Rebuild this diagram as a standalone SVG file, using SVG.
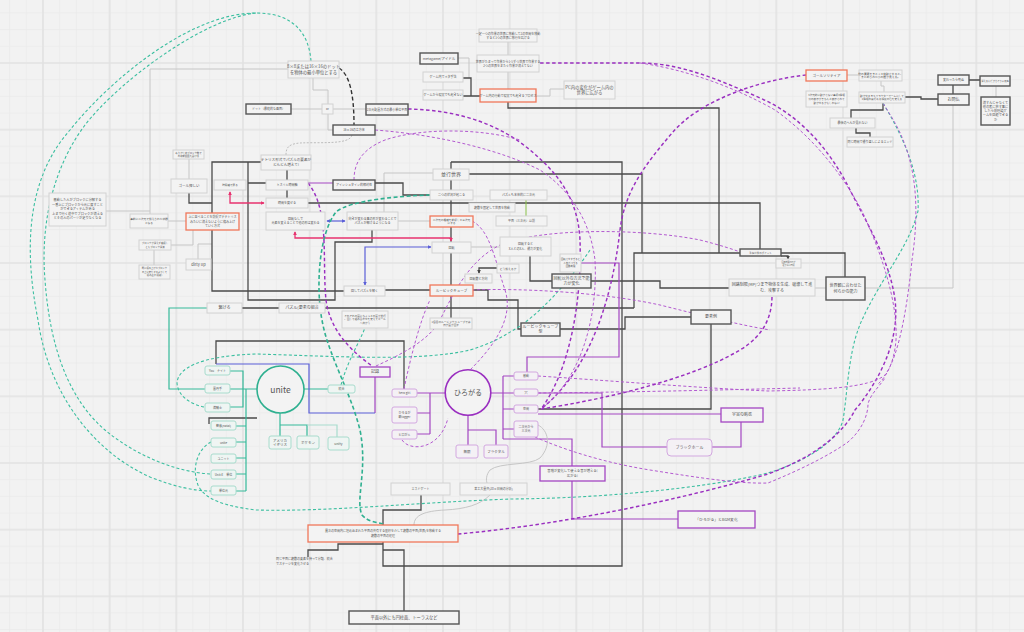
<svg xmlns="http://www.w3.org/2000/svg" width="1024" height="632" viewBox="0 0 1024 632">
<defs>
<pattern id="grid" x="42" y="62" width="66.667" height="66.667" patternUnits="userSpaceOnUse">
<path d="M17.667,0V66.667M34.333,0V66.667M51,0V66.667M0,17.667H66.667M0,34.333H66.667M0,51H66.667" stroke="#eaeaea" stroke-width="0.8" fill="none"/>
<path d="M1,0V66.667M0,1H66.667" stroke="#e2e2e2" stroke-width="1.6" fill="none"/>
</pattern>
<marker id="ap" viewBox="0 0 6 6" refX="5" refY="3" markerWidth="3" markerHeight="3" orient="auto-start-reverse"><path d="M0,0L6,3L0,6z" fill="#e7336f"/></marker>
<marker id="ab" viewBox="0 0 6 6" refX="5" refY="3" markerWidth="3" markerHeight="3" orient="auto-start-reverse"><path d="M0,0L6,3L0,6z" fill="#5b5fd8"/></marker>
<marker id="ad" viewBox="0 0 6 6" refX="5" refY="3" markerWidth="3" markerHeight="3" orient="auto-start-reverse"><path d="M0,0L6,3L0,6z" fill="#444"/></marker>
</defs>
<style>
text{font-family:"Noto Sans CJK JP","Noto Sans",sans-serif;fill:#555;text-anchor:middle}
.b{fill:#f3f3f3;stroke:#d2d2d2;stroke-width:1}
.bd{fill:#f3f3f3;stroke:#555;stroke-width:1.4}
.bo{fill:#f3f3f3;stroke:#f0775a;stroke-width:1.3}
.bp{fill:#f3f3f3;stroke:#a346c2;stroke-width:1.3}
.bpl{fill:#f4f1f5;stroke:#d3a8e0;stroke-width:1}
.bt{fill:#eff5f3;stroke:#a8dccd;stroke-width:1}
.lg{stroke:#c6c6c6;stroke-width:1}
.dk{stroke:#4a4a4a;stroke-width:1.3}
.tl{stroke:#35b99a;stroke-width:1.2}
.tll{stroke:#a8dccd;stroke-width:1.2}
.pu{stroke:#a346c2;stroke-width:1.2}
.bl{stroke:#5b5fd8;stroke-width:1.2}
.pk{stroke:#e7336f;stroke-width:1.3}
.gr{stroke:#8bc34a;stroke-width:1}
.dp{stroke:#b35ad0;stroke-width:1;stroke-dasharray:3 2.2}
.dpb{stroke:#9a2fc0;stroke-width:1.45;stroke-dasharray:3.5 2.5}
.dt{stroke:#3cbfa0;stroke-width:1.1;stroke-dasharray:3 2.2}
.dtb{stroke:#2fb090;stroke-width:1.6;stroke-dasharray:4 2.5}
.dg{stroke:#bcbcbc;stroke-width:1;stroke-dasharray:2 1.5}
.dk2{stroke:#333;stroke-width:1.4;stroke-dasharray:4 2.5}
</style>
<rect width="1024" height="632" fill="#f2f2f2"/>
<rect width="1024" height="632" fill="url(#grid)"/>

<g id="connectors" fill="none">
<path class="lg" d="M150,214V69H288M106,211H150M313,78V90H328V104M291,109H322M333,109H366M328,114V130H333M189,159V179M168,221H186M171,245H193V230M154,250V265M212,244H198V259M458,58H469V78M508,42V55M508,72V89M536,96H550V89H564M847,75H859M881,81V86H884V92M996,86V97M953,105V288H815M384,212V173H433M397,221H430M471,247H500"/>
<path class="dk" d="M287,170V180M287,190V198M248,183H266M375,183H403V195H430M307,203H760V249M261,162H212V291H344M248,162V300H335V242H372V230M189,193V203H212M451,162H622V566H383V542M451,162V318M469,174H642V253M508,102V108H719V253M634,308V253H740M242,308H634M463,78H471V96M463,96H480M904,97H921V99H938M883,103V110H851V118M856,128V133H870V137M953,85V94M969,80H980M781,253H845V277M591,281H660V288H729M560,329H625V317H691M711,324V409H538M472,290H488V300H518V329H521M385,290H430M216,364V341H404V393H417M530,256V281H552M421,495V510H383V525M383,544H338V550H308V557M383,550H404V611M209,424V418H257"/>
<path class="dk" d="M781,256H788V259" marker-end="url(#ad)"/>
<path class="dk" d="M497,268H479V273" marker-end="url(#ad)"/>
<path class="tl" d="M207,308H169V389H205M230,371H243V407H230M230,389H257M246,389V491M236,426H246M236,442H246M236,458H246M236,474H246M236,491H246M303,389H328M280,413V425H307V436M280,425V436"/>
<path class="tll" d="M307,425H337V437"/>
<path class="pu" d="M308,183H333M375,377V413M417,393H445M430,393V434M417,413H430M417,434H430M468,416V445M468,430H496V445M491,393H503M503,376V439M503,376H514M503,393H514M503,409H514M503,429H514M503,439H572V519H678M538,393H602V447H667M712,447H741V422M538,414H721M581,263H619V357H527V372"/>
<path class="bl" d="M216,364H309V413H375"/>
<path class="bl" d="M327,221H345" marker-start="url(#ab)" marker-end="url(#ab)"/>
<path class="bl" d="M431,247H365V285" marker-start="url(#ab)" marker-end="url(#ab)"/>
<path class="pk" d="M230,192V203H264" marker-start="url(#ap)" marker-end="url(#ap)"/>
<path class="pk" d="M295,232V238H451V241" marker-start="url(#ap)" marker-end="url(#ap)"/>
<path class="gr" d="M526,200V216"/>
<path class="dg" d="M352,135C350,145 320,142 300,143C288,144 286,148 286,155"/>
<path class="dk2" d="M339,68C350,75 354,95 354,125"/>
<path class="lg" d="M538,425C548,430 552,445 540,458C530,466 500,462 490,470C486,475 486,480 487,483M414,525C414,515 425,511 445,510C465,509 480,505 490,495"/>
<path class="dt" d="M311,61C309,35 295,13 256,13C190,13 110,80 70,130C30,175 22,240 38,320C48,390 90,450 150,477C175,487 195,491 211,491"/>
<path class="dt" d="M256,13C205,18 120,80 85,125C55,165 40,220 45,280C50,350 70,400 105,430C135,455 175,472 211,474"/>
<path class="dt" d="M211,442C196,450 192,470 198,485C205,500 225,506 256,510C330,512 420,502 512,499C620,498 720,485 768,473C810,460 838,440 843,420C848,390 848,350 862,320C880,280 910,245 918,211C920,175 905,140 883,103"/>
<path class="dt" d="M204,407C190,404 178,396 177,383C178,368 200,356 256,354C330,356 420,362 470,350C490,344 500,338 512,331C540,315 570,280 590,250"/>
<path class="dtb" d="M430,195C400,196 350,200 336,212C318,235 316,290 322,320C328,355 350,390 360,430C368,470 355,500 362,515C368,522 376,522 383,524"/>
<path class="dt" d="M341,385C348,360 358,345 365,328"/>
<path class="dpb" d="M458,534C560,525 680,500 768,474C820,455 845,430 855,410C880,380 900,340 895,300C890,260 865,220 850,190C830,150 800,115 760,98C720,80 680,63 640,63L539,63"/>
<path class="dp" d="M640,63C690,70 740,90 775,110C810,135 840,170 862,211C880,250 898,300 896,340C894,365 885,378 878,384"/>
<path class="dp" d="M538,376C600,380 700,388 768,391C820,390 870,388 885,375C900,355 908,300 912,260C918,220 918,180 905,145C898,125 888,112 883,103"/>
<path class="dp" d="M538,393C640,392 720,390 800,388"/>
<path class="dp" d="M535,437C560,448 600,462 650,470C700,478 740,484 768,483C800,470 830,455 848,442C862,430 868,415 868,404C870,395 878,388 885,378"/>
<path class="dpb" d="M541,409C600,400 690,380 740,350C765,335 772,315 772,296"/>
<path class="dpb" d="M806,75C760,80 700,100 672,133C645,165 625,190 620,230C612,300 590,370 541,409"/>
<path class="dpb" d="M408,109C460,110 500,125 530,150C560,175 578,200 580,240C582,300 570,370 541,409"/>
<path class="dp" d="M375,130C440,135 500,150 540,170C570,190 590,220 595,260C598,320 580,380 541,409"/>
<path class="dpb" d="M308,183C330,210 322,260 326,300C330,330 350,350 372,366"/>
<path class="dp" d="M376,366C400,355 430,340 440,320C455,290 470,260 500,245C540,228 640,228 700,240C720,245 735,250 740,252"/>
<path class="dp" d="M354,180C354,165 360,150 385,140C420,128 480,128 520,140"/>
<path class="dp" d="M472,221C490,230 495,260 505,290C515,320 490,350 470,370"/>
<path class="dp" d="M472,290C520,288 600,292 660,305C700,315 740,325 770,330"/>
<path class="dp" d="M404,389C410,360 420,320 430,300"/>
<path class="dp" d="M402,440C410,452 440,450 448,418"/>
</g>

<g id="n1"><rect class="b" x="288" y="61" width="51" height="17"/><text font-size="4.3" x="313.5" y="68.2">8×8または16×16のドット</text><text font-size="4.3" x="313.5" y="73.8">を物体の最小単位とする</text></g>
<g id="n2"><rect class="b" x="322" y="104" width="11" height="10"/><text font-size="3" x="327.5" y="110">or</text></g>
<g id="n3"><rect class="bd" x="246" y="104" width="45" height="10"/><text font-size="3" x="268.5" y="110">ドット（最終的な画面）</text></g>
<g id="n4"><rect class="bd" x="366" y="104" width="42" height="11"/><text font-size="3" x="387" y="110.5">2次元配置方式の最小単位平面</text></g>
<g id="n5"><rect class="bd" x="333" y="125" width="42" height="10"/><text font-size="3" x="354" y="131">16×16の立方体</text></g>
<g id="n6"><rect class="b" x="261" y="155" width="50" height="15"/><text font-size="3.6" x="286" y="161.4">テトリス形式でパズルの要素が</text><text font-size="3.6" x="286" y="166.2">どんどん増えて!</text></g>
<g id="n7"><rect class="b" x="266" y="180" width="42" height="10"/><text font-size="3" x="287" y="186">ミスリル時間軸</text></g>
<g id="n8"><rect class="b" x="266" y="198" width="42" height="10"/><text font-size="3" x="287" y="204">時間を戻せる</text></g>
<g id="n9"><rect class="bd" x="333" y="180" width="42" height="10"/><text font-size="3" x="354" y="186">アインシュタイン的相対性</text></g>
<g id="n10"><rect class="b" x="433" y="169" width="36" height="11"/><text font-size="5" x="451" y="176.3">並行世界</text></g>
<g id="n11"><rect class="b" x="430" y="190" width="43" height="10"/><text font-size="3" x="451.5" y="196">二つの状況が起こる</text></g>
<g id="n12"><rect class="b" x="490" y="190" width="57" height="10"/><text font-size="3" x="518.5" y="196">パズルも本体的に二次元</text></g>
<g id="n12b"><rect class="b" x="469" y="203" width="46" height="9"/><text font-size="3" x="492" y="208.6">複数を固定して世界を移動</text></g>
<g id="n13"><rect class="b" x="496" y="216" width="51" height="10"/><text font-size="3" x="521.5" y="222">平面（三次元）以前</text></g>
<g id="n14"><rect class="b" x="479" y="29" width="58" height="13"/><text font-size="3" x="508" y="34.5">一定一つの作業の世界に移動して2の空間を移動</text><text font-size="3" x="508" y="38.5">すると1つの世界に移行を広げる</text></g>
<g id="n15"><rect class="b" x="477" y="55" width="62" height="17"/><text font-size="3" x="508" y="62.5">世界がたまって作業から1つずつ世界で作業する</text><text font-size="3" x="508" y="66.5">2つの世界をまたぐ作業が消えてない</text></g>
<g id="n16"><rect class="bd" x="420" y="53" width="38" height="11"/><text font-size="3.5" x="439" y="59.8">metagame/アイドル</text></g>
<g id="n17"><rect class="b" x="423" y="72" width="40" height="10"/><text font-size="3" x="443" y="78">ゲーム内でメタ手法</text></g>
<g id="n18"><rect class="b" x="423" y="90" width="40" height="10"/><text font-size="3" x="443" y="96">ゲームから現実でも起きない</text></g>
<g id="n19"><rect class="bo" x="480" y="89" width="56" height="13"/><text font-size="3" x="508" y="96.5">ゲーム内の行動で現実でも起きるプロセス</text></g>
<g id="n20"><rect class="b" x="564" y="81" width="51" height="18"/><text font-size="4.3" x="589.5" y="88.7">PC内の変化がゲーム内の</text><text font-size="4.3" x="589.5" y="94.3">世界に広がる</text></g>
<g id="n21"><rect class="bo" x="806" y="70" width="41" height="11"/><text font-size="3.5" x="826.5" y="76.7">ゴールソリティア</text></g>
<g id="n22"><rect class="b" x="859" y="70" width="43" height="11"/><text font-size="2.8" x="880.5" y="74.6">他の要素をまとって移動させると、</text><text font-size="2.8" x="880.5" y="78.4">まとめられた小の数が見える。</text></g>
<g id="n23"><rect class="b" x="806" y="91" width="41" height="16"/><text font-size="2.6" x="826.5" y="96.3">3次元的に動かさない事柄3種類</text><text font-size="2.6" x="826.5" y="99.9">何の表示がきちんと表示されて</text><text font-size="2.6" x="826.5" y="103.5">動かせるかもしれない</text></g>
<g id="n24"><rect class="b" x="859" y="92" width="46" height="11"/><text font-size="2.6" x="882" y="96.6">動かせるモキャラクターゲームにして</text><text font-size="2.6" x="882" y="100.4">2種類の実行ある程度の色を変える</text></g>
<g id="n25"><rect class="b" x="830" y="118" width="45" height="10"/><text font-size="3" x="852.5" y="124">最後のへんが見れない</text></g>
<g id="n26"><rect class="b" x="847" y="137" width="46" height="10"/><text font-size="3" x="870" y="143">同じ時間で繰り返しによるエンド</text></g>
<g id="n27"><rect class="bd" x="938" y="75" width="31" height="10"/><text font-size="3" x="953.5" y="81">変わったら死ぬ</text></g>
<g id="n28"><rect class="bd" x="938" y="94" width="31" height="11"/><text font-size="4" x="953.5" y="101">お問仏</text></g>
<g id="n29"><rect class="bd" x="980" y="76" width="30" height="10"/><text font-size="2.3" x="995" y="82">消えるんだからそりゃ死ぬ</text></g>
<g id="n30"><rect class="bd" x="981" y="97" width="29" height="28"/><text font-size="3.2" x="995.5" y="103.5">消すんじゃなくて</text><text font-size="3.2" x="995.5" y="107.8">他の者に移す事に</text><text font-size="3.2" x="995.5" y="112.1">したら前理論ゲ</text><text font-size="3.2" x="995.5" y="116.4">ームを回避できる</text><text font-size="3.2" x="995.5" y="120.7">か</text></g>
<g id="n31"><rect class="bd" x="740" y="249" width="41" height="7"/><text font-size="2.5" x="760.5" y="253.5">重ねた後のポイント</text></g>
<g id="n32"><rect class="b" x="776" y="259" width="25" height="9"/><text font-size="2" x="788.5" y="262.8">回路制限(MP)が</text><text font-size="2" x="788.5" y="265.6">足りない時間</text></g>
<g id="n33"><rect class="b" x="729" y="279" width="86" height="17"/><text font-size="4" x="772" y="286.3">回路制限(MP)つまで物体を生成、破壊して進</text><text font-size="4" x="772" y="291.5">む、攻撃する</text></g>
<g id="n34"><rect class="bd" x="826" y="277" width="39" height="23"/><text font-size="4" x="845.5" y="287.2">世界観に合わせた</text><text font-size="4" x="845.5" y="292.6">何らかの能力</text></g>
<g id="n35"><rect class="bd" x="691" y="310" width="40" height="14"/><text font-size="4" x="711" y="318.4">要素例</text></g>
<g id="n36"><rect class="b" x="266" y="212" width="59" height="18"/><text font-size="3" x="295.5" y="220">回転なしで</text><text font-size="3" x="295.5" y="224.2">元素を変えることで他の形は変わる</text></g>
<g id="n37"><rect class="b" x="347" y="212" width="51" height="18"/><text font-size="3" x="372.5" y="220">向きが変わる事の形が変わることで</text><text font-size="3" x="372.5" y="224.2">パズルが解けるようになる</text></g>
<g id="n38"><rect class="bo" x="430" y="216" width="43" height="11"/><text font-size="2.7" x="451.5" y="220.6">二次元の趣味を前提して三次元</text><text font-size="2.7" x="451.5" y="224.2">にする</text></g>
<g id="n39"><rect class="b" x="432" y="242" width="39" height="11"/><text font-size="3" x="451.5" y="248.5">回転</text></g>
<g id="n40"><rect class="b" x="465" y="274" width="27" height="9"/><text font-size="3" x="478.5" y="279.5">回転数と方向</text></g>
<g id="n41"><rect class="b" x="497" y="264" width="22" height="9"/><text font-size="2.8" x="508" y="269.5">どう揃えるか</text></g>
<g id="n42"><rect class="b" x="344" y="286" width="41" height="10"/><text font-size="3" x="364.5" y="292">回してパズルを解く</text></g>
<g id="n43"><rect class="bo" x="430" y="285" width="43" height="11"/><text font-size="3.5" x="451.5" y="291.7">ルービックキューブ</text></g>
<g id="n44"><rect class="b" x="279" y="303" width="46" height="10"/><text font-size="4" x="302" y="309.4">パズル(要素の組合</text></g>
<g id="n45"><rect class="b" x="342" y="311" width="46" height="17"/><text font-size="2.6" x="365" y="316.7">それぞれの面にちょっとの面が並行</text><text font-size="2.6" x="365" y="320.4">、回して組み合わせを変えてゴール</text><text font-size="2.6" x="365" y="324.1">へ向かう</text></g>
<g id="n46"><rect class="b" x="430" y="318" width="42" height="11"/><text font-size="2.7" x="451" y="322.6">1個目のルービックキューブでは</text><text font-size="2.7" x="451" y="326.3">何か面が回す</text></g>
<g id="n47"><rect class="b" x="500" y="237" width="51" height="19"/><text font-size="3" x="525.5" y="245.3">回転すると</text><text font-size="3" x="525.5" y="249.8">X人とのX人、能力が変化</text></g>
<g id="n48"><rect class="b" x="560" y="254" width="21" height="18"/><text font-size="2.4" x="570.5" y="260.2">回転させすぎると</text><text font-size="2.4" x="570.5" y="263.8">人格がバグる</text><text font-size="2.4" x="570.5" y="267.4">回路制限</text></g>
<g id="n49"><rect class="bd" x="552" y="274" width="39" height="14"/><text font-size="4" x="571.5" y="279.9">回転以外の方法で能</text><text font-size="4" x="571.5" y="284.9">力が変化</text></g>
<g id="n50"><rect class="bd" x="521" y="323" width="39" height="13"/><text font-size="4" x="540.5" y="328.4">ルービックキューブ</text><text font-size="4" x="540.5" y="333.4">型</text></g>
<g id="n51"><rect class="b" x="391" y="483" width="59" height="12"/><text font-size="3" x="420.5" y="490">エネドゲート</text></g>
<g id="n52"><rect class="b" x="460" y="483" width="67" height="12"/><text font-size="3" x="493.5" y="490">某工大量弁(20×日間の分析)</text></g>
<g id="n53"><rect class="bo" x="308" y="525" width="150" height="17"/><text font-size="3" x="383" y="532">異次の空間内に埋め込まれた平面の共有する座標を介して複数の平面(世界)を移動する</text><text font-size="3" x="383" y="537">複数の平面の処理</text></g>
<g id="n54"><text font-size="3" x="276" y="560" style="text-anchor:start">同じ平面に複数の要素を持って分類、統合</text><text font-size="3" x="276" y="564.6" style="text-anchor:start">でステージを変化させる</text></g>
<g id="n55"><rect class="bd" x="349" y="611" width="110" height="13"/><text font-size="4.2" x="404" y="619">平面以外にも円柱面、トーラスなど</text></g>
<g id="unite"><circle cx="280.5" cy="389.5" r="23.5" fill="#f3f3f3" stroke="#2fb090" stroke-width="1.6"/><text font-size="8.5" x="280.5" y="392.5">unite</text></g>
<g id="hirogaru"><circle cx="468" cy="392.5" r="22.8" fill="#f3f3f3" stroke="#9a2fc0" stroke-width="1.6"/><text font-size="7" x="468" y="395">ひろがる</text></g>
<g id="n56"><rect class="b" x="207" y="303" width="35" height="10"/><text font-size="4" x="224.5" y="309.4">繋げる</text></g>
<g id="n57"><rect class="bt" x="205" y="366" width="25" height="9" rx="2"/><text font-size="3" x="217.5" y="371.6">You　ナイト</text></g>
<g id="n58"><rect class="bt" x="205" y="384" width="25" height="9" rx="2"/><text font-size="3" x="217.5" y="389.6">雲丹手</text></g>
<g id="n59"><rect class="bt" x="205" y="403" width="25" height="9" rx="2"/><text font-size="3" x="217.5" y="408.6">満騎士</text></g>
<g id="n60"><rect class="bt" x="328" y="385" width="27" height="8" rx="2"/><text font-size="3" x="341.5" y="390">統合</text></g>
<g id="n61"><rect class="bp" x="360" y="367" width="30" height="10"/><text font-size="4" x="375" y="373.4">記録</text></g>
<g id="n62"><rect class="bpl" x="392" y="389" width="25" height="8" rx="2"/><text font-size="3" x="404.5" y="394">hero girl</text></g>
<g id="n63"><rect class="bpl" x="392" y="407" width="25" height="16" rx="2"/><text font-size="3" x="404.5" y="413.8">ひろるが</text><text font-size="3" x="404.5" y="418.3">歌logger</text></g>
<g id="n64"><rect class="bpl" x="392" y="430" width="25" height="9" rx="2"/><text font-size="3" x="404.5" y="435.6">ヒロがル</text></g>
<g id="n65"><rect class="bpl" x="456" y="445" width="22" height="13" rx="2"/><text font-size="3.5" x="467" y="452.8">無限</text></g>
<g id="n66"><rect class="bpl" x="484" y="445" width="24" height="13" rx="2"/><text font-size="3.5" x="496" y="452.8">フラクタル</text></g>
<g id="n67"><rect class="bt" x="211" y="421" width="25" height="9" rx="2"/><text font-size="3" x="223.5" y="426.6">熱意(natal)</text></g>
<g id="n68"><rect class="bt" x="211" y="438" width="25" height="9" rx="2"/><text font-size="3" x="223.5" y="443.6">unite</text></g>
<g id="n69"><rect class="bt" x="211" y="454" width="25" height="9" rx="2"/><text font-size="3" x="223.5" y="459.6">ユニット</text></g>
<g id="n70"><rect class="bt" x="211" y="470" width="25" height="9" rx="2"/><text font-size="3" x="223.5" y="475.6">Unit:E　単位</text></g>
<g id="n71"><rect class="bt" x="211" y="486" width="25" height="9" rx="2"/><text font-size="3" x="223.5" y="491.6">単位元</text></g>
<g id="n72"><rect class="bt" x="269" y="436" width="22" height="13" rx="2"/><text font-size="3.5" x="280" y="441.5">アメリカ</text><text font-size="3.5" x="280" y="446">イギリス</text></g>
<g id="n73"><rect class="bt" x="297" y="436" width="22" height="13" rx="2"/><text font-size="3.5" x="308" y="444">ポケモン</text></g>
<g id="n74"><rect class="bt" x="328" y="437" width="21" height="13" rx="2"/><text font-size="3.5" x="338.5" y="444.7">unity</text></g>
<g id="n75"><rect class="bpl" x="514" y="372" width="24" height="8" rx="2"/><text font-size="3" x="526" y="377">感動</text></g>
<g id="n76"><rect class="bpl" x="514" y="389" width="24" height="7" rx="2"/><text font-size="3" x="526" y="393.5">穴</text></g>
<g id="n77"><rect class="bpl" x="514" y="405" width="24" height="8" rx="2"/><text font-size="3" x="526" y="410">空間</text></g>
<g id="n78"><rect class="bpl" x="514" y="421" width="24" height="16" rx="2"/><text font-size="3" x="526" y="427.8">二次元から</text><text font-size="3" x="526" y="432.3">三次元</text></g>
<g id="n79"><rect class="bp" x="721" y="408" width="42" height="14"/><text font-size="4" x="742" y="416.4">宇宙の膨張</text></g>
<g id="n80"><rect class="bpl" x="667" y="439" width="45" height="17" rx="4"/><text font-size="4" x="689.5" y="448.9">ブラックホール</text></g>
<g id="n81"><rect class="bp" x="540" y="466" width="65" height="15"/><text font-size="3.3" x="572.5" y="472.4">音階が変化して使える音が増える(</text><text font-size="3.3" x="572.5" y="477">広がる)</text></g>
<g id="n82"><rect class="bp" x="678" y="511" width="77" height="17"/><text font-size="3.8" x="716.5" y="520.8">「ひろがる」とBGM変化</text></g>
<g id="n83"><rect class="b" x="173" y="150" width="31" height="9"/><text font-size="2.4" x="188.5" y="153.7">あらかじめブロック数で</text><text font-size="2.4" x="188.5" y="156.9">の初期配置を設ける</text></g>
<g id="n84"><rect class="b" x="171" y="179" width="36" height="14"/><text font-size="3.5" x="189" y="187.2">ゴール探しい</text></g>
<g id="n85"><rect class="b" x="214" y="180" width="32" height="10"/><text font-size="2.6" x="230" y="186">時間軸で戻る</text></g>
<g id="n86"><rect class="b" x="49" y="193" width="57" height="33"/><text font-size="3.2" x="77.5" y="201">感動した人がブロックに分解する</text><text font-size="3.2" x="77.5" y="205.5">一番上にブロックから元に戻すこと</text><text font-size="3.2" x="77.5" y="210">ができるアイテムがある</text><text font-size="3.2" x="77.5" y="214.5">上まで行く途中でブロックが消える</text><text font-size="3.2" x="77.5" y="219">とその人のパーツが足りなくなる</text></g>
<g id="n87"><rect class="b" x="130" y="214" width="38" height="14"/><text font-size="2.7" x="149" y="220">事前に二次元で揃えられた状態</text><text font-size="2.7" x="149" y="223.8">となる</text></g>
<g id="n88"><rect class="bo" x="186" y="213" width="53" height="17"/><text font-size="3" x="212.5" y="218.2">上に並べることを前提ボデテトリス</text><text font-size="3" x="212.5" y="222.5">みたいに消えないように積み上げ</text><text font-size="3" x="212.5" y="226.8">ていく方式</text></g>
<g id="n89"><rect class="b" x="139" y="240" width="32" height="10"/><text font-size="2.4" x="155" y="244.2">ブロックが消えず横積し</text><text font-size="2.4" x="155" y="247.5">ともブロック消滅</text></g>
<g id="n90"><rect class="b" x="139" y="265" width="31" height="14"/><text font-size="2.3" x="154.5" y="269.4">既に積み上げたブロック</text><text font-size="2.3" x="154.5" y="272.8">の上に変化するよりして</text><text font-size="2.3" x="154.5" y="276.2">積み直す(積載)</text></g>
<g id="n91"><rect class="b" x="186" y="259" width="25" height="11"/><text font-size="4" x="198.5" y="266">dirty up</text></g>
</svg>
